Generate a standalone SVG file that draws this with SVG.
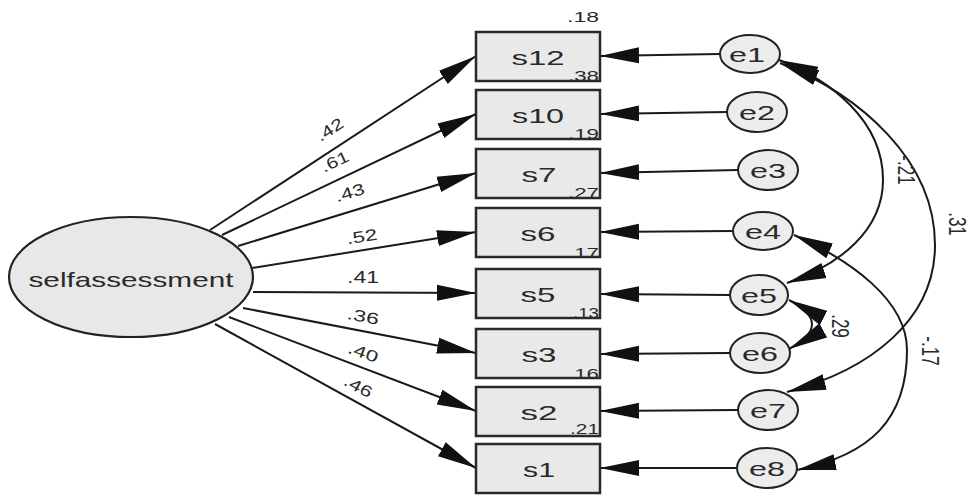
<svg xmlns="http://www.w3.org/2000/svg" width="975" height="501" viewBox="0 0 975 501">
<style>
.box{fill:#e9e9e9;stroke:#2a2a2a;stroke-width:2.5}
.lat{fill:#e8e8e8;stroke:#222;stroke-width:2.2}
.err{fill:#ececec;stroke:#222;stroke-width:2}
.lbl{font-family:"Liberation Sans",Arial,sans-serif;font-size:21px;fill:#2a2a2a;text-anchor:middle}
.val{font-family:"Liberation Sans",Arial,sans-serif;font-size:16px;fill:#2a2a2a;text-anchor:middle}
.cv{font-family:"Liberation Sans",Arial,sans-serif;font-size:17px;fill:#2a2a2a;text-anchor:middle}
.r2{font-family:"Liberation Sans",Arial,sans-serif;font-size:15px;fill:#2a2a2a;text-anchor:end}
.ln{fill:none;stroke:#1a1a1a;stroke-width:2;marker-end:url(#ah)}
.cov{fill:none;stroke:#1a1a1a;stroke-width:2;marker-start:url(#ah);marker-end:url(#ah)}
</style>
<defs>
<marker id="ah" markerUnits="userSpaceOnUse" viewBox="0 0 40 18" markerWidth="40" markerHeight="18" refX="39" refY="9" orient="auto-start-reverse">
<path d="M0,1 L39,9 L0,17 z" fill="#111"/>
</marker>
</defs>
<rect width="975" height="501" fill="#fff"/>

<g id="connectors">
<path class="ln" d="M210,230 L476,56"/>
<path class="ln" d="M222,235 L476,114"/>
<path class="ln" d="M238,246 L476,173"/>
<path class="ln" d="M252,268 L476,232"/>
<path class="ln" d="M253,292 L476,293"/>
<path class="ln" d="M243,308 L476,353"/>
<path class="ln" d="M229,317 L476,411"/>
<path class="ln" d="M215,324 L476,468"/>
<path class="ln" d="M720,54 L600,56"/>
<path class="ln" d="M727,112 L600,114"/>
<path class="ln" d="M738,170 L600,173"/>
<path class="ln" d="M733,231 L600,232"/>
<path class="ln" d="M730,295 L600,294"/>
<path class="ln" d="M730,353 L600,354"/>
<path class="ln" d="M738,410 L600,411"/>
<path class="ln" d="M737,468 L600,468"/>
<path class="cov" d="M779,60 C830,80 883,120 883,180 C883,230 840,265 787,283"/>
<path class="cov" d="M780,63 C860,95 935,160 935,245 C935,320 870,370 787,392"/>
<path class="cov" d="M794,235 C850,260 907,300 907,350 C907,420 870,455 797,470"/>
<path class="cov" d="M789,300 Q835,324 789,349"/>
<text class="val" transform="translate(330,130) rotate(-33)" y="5" textLength="29" lengthAdjust="spacingAndGlyphs">.42</text>
<text class="val" transform="translate(335,162) rotate(-25)" y="5" textLength="29" lengthAdjust="spacingAndGlyphs">.61</text>
<text class="val" transform="translate(350,193) rotate(-17)" y="5" textLength="30" lengthAdjust="spacingAndGlyphs">.43</text>
<text class="val" transform="translate(362,237) rotate(-9)" y="5" textLength="31" lengthAdjust="spacingAndGlyphs">.52</text>
<text class="val" transform="translate(363,278)" y="5" textLength="32" lengthAdjust="spacingAndGlyphs">.41</text>
<text class="val" transform="translate(363,317) rotate(11)" y="5" textLength="32" lengthAdjust="spacingAndGlyphs">.36</text>
<text class="val" transform="translate(363,353) rotate(20)" y="5" textLength="31" lengthAdjust="spacingAndGlyphs">.40</text>
<text class="val" transform="translate(358,387) rotate(28)" y="5" textLength="30" lengthAdjust="spacingAndGlyphs">.46</text>
<text class="cv" transform="translate(906,170) rotate(90) scale(1,1.4)" y="6">-.21</text>
<text class="cv" transform="translate(957,224) rotate(90) scale(1,1.4)" y="6">.31</text>
<text class="cv" transform="translate(930,351) rotate(90) scale(1,1.4)" y="6">-.17</text>
<text class="cv" transform="translate(840,326) rotate(90) scale(1,1.4)" y="6">.29</text>
</g>

<g id="selfassessment">
<ellipse class="lat" cx="131" cy="277" rx="122" ry="60"/>
<text class="lbl" x="131" y="287" textLength="205" lengthAdjust="spacingAndGlyphs">selfassessment</text>
</g>

<g id="s12"><rect class="box" x="476" y="32" width="124" height="49"/><text class="lbl" x="538" y="65" textLength="53" lengthAdjust="spacingAndGlyphs">s12</text><text class="r2" x="599" y="22" textLength="32" lengthAdjust="spacingAndGlyphs">.18</text><text class="r2" x="599" y="81" textLength="31" lengthAdjust="spacingAndGlyphs">.38</text></g>
<g id="s10"><rect class="box" x="476" y="90" width="124" height="49"/><text class="lbl" x="538" y="123" textLength="52" lengthAdjust="spacingAndGlyphs">s10</text><text class="r2" x="599" y="139" textLength="31" lengthAdjust="spacingAndGlyphs">.19</text></g>
<g id="s7"><rect class="box" x="476" y="149" width="124" height="49"/><text class="lbl" x="539" y="182" textLength="35" lengthAdjust="spacingAndGlyphs">s7</text><text class="r2" x="599" y="198" textLength="31" lengthAdjust="spacingAndGlyphs">.27</text></g>
<g id="s6"><rect class="box" x="476" y="208" width="124" height="49"/><text class="lbl" x="538" y="241" textLength="35" lengthAdjust="spacingAndGlyphs">s6</text><text class="r2" x="599" y="258" textLength="31" lengthAdjust="spacingAndGlyphs">.17</text></g>
<g id="s5"><rect class="box" x="476" y="269" width="124" height="49"/><text class="lbl" x="538" y="302" textLength="35" lengthAdjust="spacingAndGlyphs">s5</text><text class="r2" x="599" y="318" textLength="26" lengthAdjust="spacingAndGlyphs">.13</text></g>
<g id="s3"><rect class="box" x="476" y="329" width="124" height="49"/><text class="lbl" x="539" y="362" textLength="35" lengthAdjust="spacingAndGlyphs">s3</text><text class="r2" x="599" y="379" textLength="31" lengthAdjust="spacingAndGlyphs">.16</text></g>
<g id="s2"><rect class="box" x="476" y="387" width="124" height="49"/><text class="lbl" x="539" y="420" textLength="37" lengthAdjust="spacingAndGlyphs">s2</text><text class="r2" x="599" y="434" textLength="29" lengthAdjust="spacingAndGlyphs">.21</text></g>
<g id="s1"><rect class="box" x="476" y="444" width="124" height="49"/><text class="lbl" x="539" y="477" textLength="32" lengthAdjust="spacingAndGlyphs">s1</text></g>

<g id="e1"><ellipse class="err" cx="750" cy="54" rx="30" ry="19"/><text class="lbl" x="747" y="62" textLength="36" lengthAdjust="spacingAndGlyphs">e1</text></g>
<g id="e2"><ellipse class="err" cx="757" cy="112" rx="30" ry="20"/><text class="lbl" x="757" y="120" textLength="36" lengthAdjust="spacingAndGlyphs">e2</text></g>
<g id="e3"><ellipse class="err" cx="768" cy="170" rx="30" ry="20"/><text class="lbl" x="768" y="178" textLength="36" lengthAdjust="spacingAndGlyphs">e3</text></g>
<g id="e4"><ellipse class="err" cx="763" cy="231" rx="30" ry="19"/><text class="lbl" x="763" y="239" textLength="36" lengthAdjust="spacingAndGlyphs">e4</text></g>
<g id="e5"><ellipse class="err" cx="759" cy="295" rx="29" ry="20"/><text class="lbl" x="759" y="303" textLength="36" lengthAdjust="spacingAndGlyphs">e5</text></g>
<g id="e6"><ellipse class="err" cx="760" cy="353" rx="30" ry="20"/><text class="lbl" x="760" y="361" textLength="36" lengthAdjust="spacingAndGlyphs">e6</text></g>
<g id="e7"><ellipse class="err" cx="768" cy="410" rx="30" ry="20"/><text class="lbl" x="768" y="418" textLength="36" lengthAdjust="spacingAndGlyphs">e7</text></g>
<g id="e8"><ellipse class="err" cx="767" cy="468" rx="30" ry="20"/><text class="lbl" x="767" y="476" textLength="36" lengthAdjust="spacingAndGlyphs">e8</text></g>
</svg>
